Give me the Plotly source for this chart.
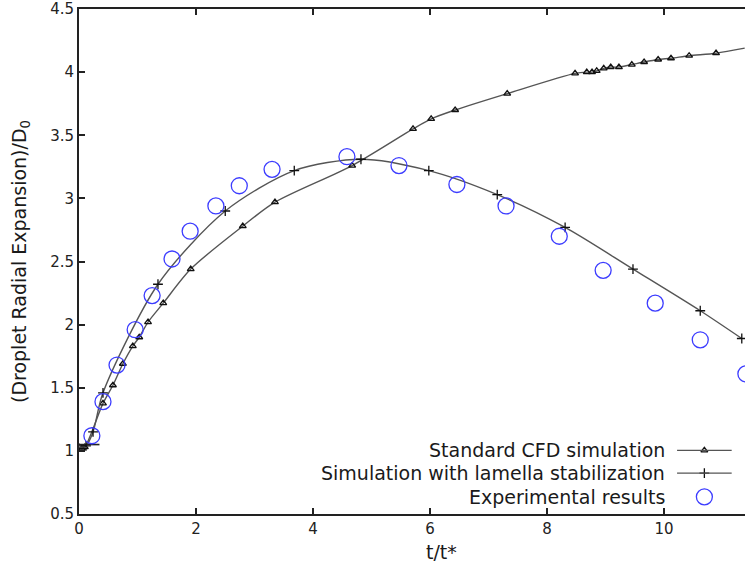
import plotly.graph_objects as go

# Standard CFD simulation (triangle markers)
cfd_t = [0.0, 0.05, 0.10, 0.41, 0.58, 0.75, 0.92, 1.03, 1.18, 1.44, 1.91, 2.80, 3.35,
         4.67, 5.71, 6.02, 6.43, 7.32, 8.48, 8.68, 8.77, 8.85, 8.97, 9.09, 9.23,
         9.45, 9.66, 9.90, 10.12, 10.43, 10.89, 11.38]
cfd_d = [1.03, 1.02, 1.03, 1.376, 1.52, 1.69, 1.83, 1.90, 2.02, 2.17, 2.44, 2.78, 2.97,
         3.26, 3.55, 3.63, 3.70, 3.83, 3.99, 4.00, 4.00, 4.01, 4.03, 4.04, 4.04,
         4.06, 4.08, 4.10, 4.11, 4.13, 4.15, 4.19]
cfd_marked = [True] * (len(cfd_t) - 1) + [False]

# Simulation with lamella stabilization (plus markers)
lam_t = [0.0, 0.12, 0.24, 0.41, 1.35, 2.50, 3.68, 4.82, 5.98, 7.15, 8.31, 9.47, 10.62, 11.33]
lam_d = [1.03, 1.04, 1.15, 1.46, 2.32, 2.90, 3.22, 3.31, 3.22, 3.03, 2.77, 2.44, 2.11, 1.89]
lam_plateau_t = [0.0, 0.35]
lam_plateau_d = [1.05, 1.05]

# Experimental results (open circles)
exp_t = [0.22, 0.41, 0.65, 0.96, 1.25, 1.59, 1.90, 2.34, 2.74, 3.30, 4.58, 5.47,
         6.46, 7.30, 8.21, 8.96, 9.85, 10.62, 11.40]
exp_d = [1.12, 1.39, 1.68, 1.96, 2.23, 2.52, 2.74, 2.94, 3.10, 3.23, 3.33, 3.26,
         3.11, 2.94, 2.70, 2.43, 2.17, 1.88, 1.61]

legend_labels = ["Standard CFD simulation",
                 "Simulation with lamella stabilization",
                 "Experimental results"]

x_ticks = [0, 2, 4, 6, 8, 10]
y_ticks = [0.5, 1, 1.5, 2, 2.5, 3, 3.5, 4, 4.5]
y_tick_text = ["0.5", "1", "1.5", "2", "2.5", "3", "3.5", "4", "4.5"]

FONT = "DejaVu Sans"
LINE_COL = "#555555"
BLUE = "#3c3cff"
TEXT_COL = "#1a1a1a"

tri_marker = dict(symbol="triangle-up-open", size=6, color="#111111", line=dict(width=1.3))
plus_marker = dict(symbol="cross-thin-open", size=7, color="#111111", line=dict(width=1.3, color="#111111"))
circ_marker = dict(symbol="circle-open", size=16, color=BLUE, line=dict(width=1.3, color=BLUE))
curve = dict(color=LINE_COL, width=1.4, shape="spline", smoothing=0.8)

fig = go.Figure()

fig.add_trace(go.Scatter(x=cfd_t, y=cfd_d, mode="lines", line=curve,
                         showlegend=False, hoverinfo="skip"))
fig.add_trace(go.Scatter(
    x=[t for t, m in zip(cfd_t, cfd_marked) if m],
    y=[d for d, m in zip(cfd_d, cfd_marked) if m],
    mode="markers", marker=tri_marker, showlegend=False, hoverinfo="skip"))

fig.add_trace(go.Scatter(x=lam_t, y=lam_d, mode="lines", line=curve,
                         showlegend=False, hoverinfo="skip"))
fig.add_trace(go.Scatter(x=lam_plateau_t, y=lam_plateau_d, mode="lines",
                         line=dict(color="#222222", width=1.6), showlegend=False, hoverinfo="skip"))
fig.add_trace(go.Scatter(x=lam_t[1:], y=lam_d[1:], mode="markers", marker=plus_marker,
                         showlegend=False, hoverinfo="skip"))

fig.add_trace(go.Scatter(x=exp_t, y=exp_d, mode="markers", marker=circ_marker,
                         showlegend=False, hoverinfo="skip"))

# Key in the lower right: right-aligned labels followed by a sample
key_rows_y = [0.126, 0.081, 0.034]
key_x0, key_x1, key_xm, key_text_x = 0.898, 0.980, 0.939, 0.883
shapes = []
for i in range(2):
    shapes.append(dict(type="line", xref="paper", yref="paper", x0=key_x0, x1=key_x1,
                       y0=key_rows_y[i], y1=key_rows_y[i], line=dict(color=LINE_COL, width=1.4)))

for mk, yy in zip([tri_marker, plus_marker, circ_marker], key_rows_y):
    fig.add_trace(go.Scatter(x=[key_xm], y=[yy], xaxis="x2", yaxis="y2", mode="markers",
                             marker=mk, showlegend=False, hoverinfo="skip"))

annotations = []
for label, yy in zip(legend_labels, key_rows_y):
    annotations.append(dict(text=label, xref="paper", yref="paper", x=key_text_x, y=yy,
                            xanchor="right", yanchor="middle", showarrow=False,
                            font=dict(family=FONT, size=19, color=TEXT_COL)))
annotations.append(dict(text="t/t*", xref="x", yref="paper", x=6.19, y=-0.075,
                        xanchor="center", yanchor="middle", showarrow=False,
                        font=dict(family=FONT, size=19, color=TEXT_COL)))

x_max = 11.385

axis_common = dict(showgrid=False, zeroline=False, showline=True, linecolor="#222222", linewidth=2,
                   ticks="inside", ticklen=6, tickwidth=1.5, tickcolor="#222222",
                   tickfont=dict(size=15, color="#222222"), ticklabeloverflow="allow")

fig.update_layout(
    width=745, height=572,
    margin=dict(l=79, r=0, t=7, b=58),
    paper_bgcolor="white", plot_bgcolor="white",
    font=dict(family=FONT, size=15, color="#222222"),
    shapes=shapes, annotations=annotations,
    xaxis=dict(range=[0, x_max], tickvals=x_ticks, ticktext=[str(v) for v in x_ticks],
               mirror="ticks", **axis_common),
    yaxis=dict(range=[0.5, 4.5], tickvals=y_ticks, ticktext=y_tick_text, mirror=False,
               title=dict(text="(Droplet Radial Expansion)/D<sub>0</sub>",
                          font=dict(size=19, color=TEXT_COL), standoff=18),
               **axis_common),
    xaxis2=dict(overlaying="x", range=[0, 1], visible=False, fixedrange=True),
    yaxis2=dict(overlaying="y", range=[0, 1], visible=False, fixedrange=True),
)

fig.write_html("out.html")
